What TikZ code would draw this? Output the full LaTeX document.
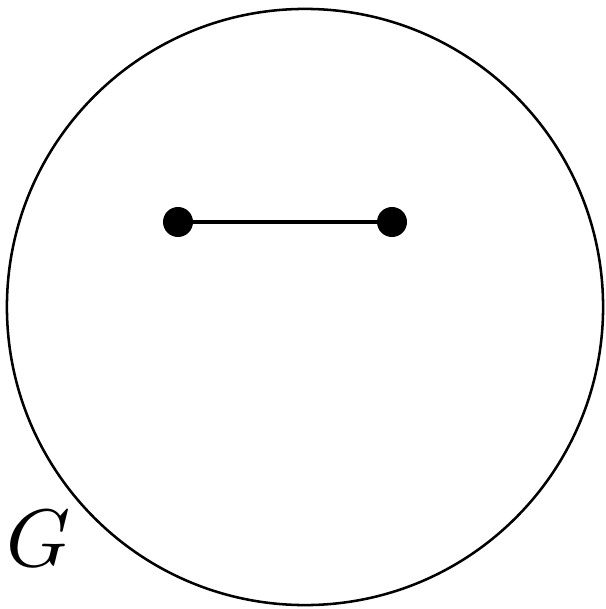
\documentclass[tikz,border=0pt]{standalone}
\usepackage{amsmath}
\usetikzlibrary{positioning}

\begin{document}
\begin{tikzpicture}[
			x=0.025cm, y=-0.025cm,
			vertex/.style={
					circle,
					fill=black,
					inner sep=0pt,
					minimum size=0.75cm % Dot diameter
				},
			edge/.style={line width=2.2pt}
		]
		\useasboundingbox (0, 0) rectangle (605, 609);

		\node[draw, circle, line width=1.8pt, minimum size=14.9cm, inner sep=0pt] (graph) at (305, 307) {};

		\node[vertex] (u) at (178, 222) {};
		\node[vertex] (v) at (392, 222) {};

		\node[inner sep=0pt, scale=5.8] (label) at (39, 539) {$G$};

		\draw[edge] (u) -- (v);
	\end{tikzpicture}
\end{document}
